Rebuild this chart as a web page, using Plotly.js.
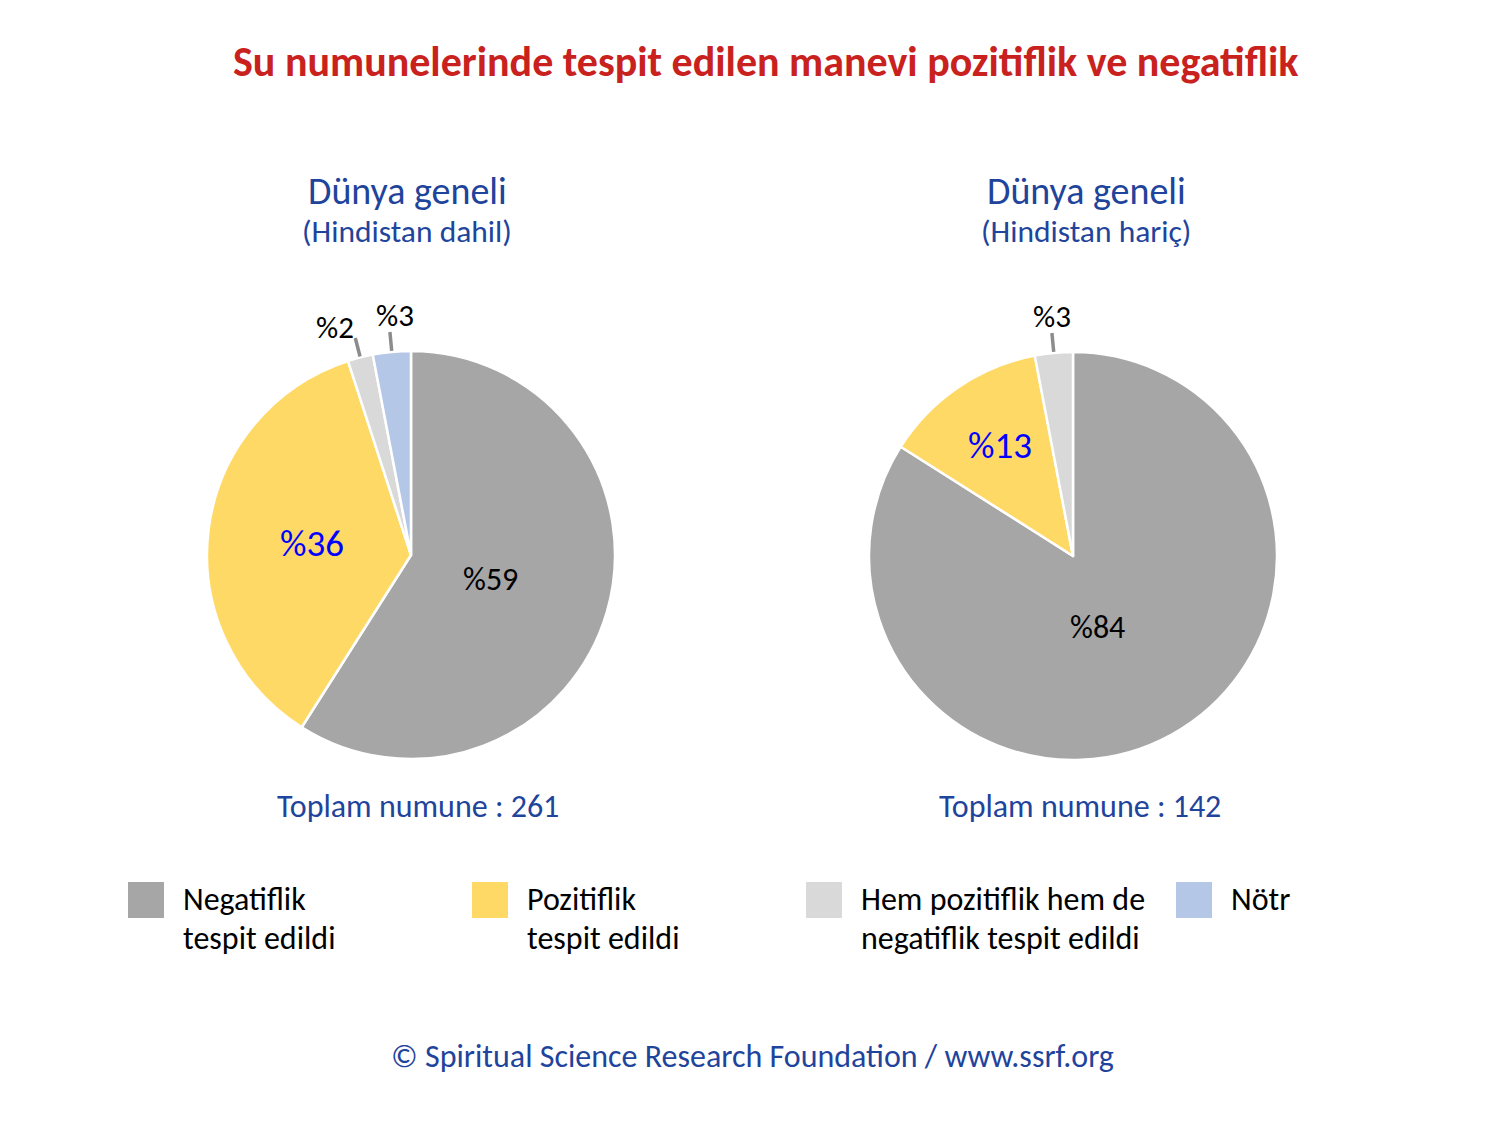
<!DOCTYPE html>
<html>
<head>
<meta charset="utf-8">
<script src="https://cdn.plot.ly/plotly-3.0.1.min.js"></script>
<style>
  html, body { margin: 0; padding: 0; background: #ffffff; }
  #chart { width: 1500px; height: 1127px; }
</style>
</head>
<body>
<div id="chart"></div>
<script>
// Categories and their colours
const categories = ['Negatiflik tespit edildi', 'Pozitiflik tespit edildi',
                    'Hem pozitiflik hem de negatiflik tespit edildi', 'Nötr'];
const legendLines = [['Negatiflik', 'tespit edildi'], ['Pozitiflik', 'tespit edildi'],
                     ['Hem pozitiflik hem de', 'negatiflik tespit edildi'], ['Nötr']];
const colors = ['#A6A6A6', '#FFD966', '#D9D9D9', '#B4C7E7'];

// Left pie: worldwide including India
const labelsIncl = categories;
const valuesIncl = [59, 36, 2, 3];
const totalIncl = 261;

// Right pie: worldwide excluding India
const labelsExcl = categories.slice(0, 3);
const valuesExcl = [84, 13, 3];
const totalExcl = 142;

const pieTitles = ['Dünya geneli', 'Dünya geneli'];
const pieSubtitles = ['(Hindistan dahil)', '(Hindistan hariç)'];
const mainTitle = 'Su numunelerinde tespit edilen manevi pozitiflik ve negatiflik';
const footer = '© Spiritual Science Research Foundation / www.ssrf.org';

const W = 1500, H = 1127;
const FONT = 'Carlito, Lato, sans-serif';
const BLUE_TXT = '#1F449C';

// pie geometry (pixels)
const R = 204;
const centers = [[411, 555], [1073, 556]];

function domainFor(c) {
  return {
    x: [(c[0] - R) / W, (c[0] + R) / W],
    y: [1 - (c[1] + R) / H, 1 - (c[1] - R) / H]
  };
}

// slices below this share are labelled outside with a leader line
const SMALL = 5;
// label placement per slice: [angle offset in degrees, radius as fraction of R]
const labelPlace = [
  [[1, 0.41], [-0.5, 0.49], [-4, 1.18], [1.5, 1.18]],
  [[10, 0.37], [1, 0.65], [0.5, 1.18]]
];

function pieTrace(labels, values, c) {
  return {
    type: 'pie',
    labels: labels,
    values: values,
    sort: false,
    direction: 'clockwise',
    rotation: 0,
    domain: domainFor(c),
    marker: { colors: colors.slice(0, values.length), line: { color: '#ffffff', width: 2.5 } },
    textinfo: 'none',
    hoverinfo: 'label+percent',
    showlegend: false
  };
}

const data = [
  pieTrace(labelsIncl, valuesIncl, centers[0]),
  pieTrace(labelsExcl, valuesExcl, centers[1])
];

const annotations = [];
const shapes = [];

// main title
annotations.push({
  xref: 'paper', yref: 'paper', x: 765 / W, y: 1 - 62 / H,
  xanchor: 'center', yanchor: 'middle', showarrow: false,
  text: '<b>' + mainTitle + '</b>',
  font: { family: FONT, size: 42, color: '#C9211E' }
});

// pie headings and totals
const headX = [407, 1086];
const totalX = [418, 1080];
const totals = [totalIncl, totalExcl];
for (let k = 0; k < 2; k++) {
  annotations.push({
    xref: 'paper', yref: 'paper', x: headX[k] / W, y: 1 - 191 / H,
    xanchor: 'center', yanchor: 'middle', showarrow: false,
    text: pieTitles[k], font: { family: FONT, size: 38, color: BLUE_TXT }
  });
  annotations.push({
    xref: 'paper', yref: 'paper', x: headX[k] / W, y: 1 - 231 / H,
    xanchor: 'center', yanchor: 'middle', showarrow: false,
    text: pieSubtitles[k], font: { family: FONT, size: 31.5, color: BLUE_TXT }
  });
  annotations.push({
    xref: 'paper', yref: 'paper', x: totalX[k] / W, y: 1 - 806 / H,
    xanchor: 'center', yanchor: 'middle', showarrow: false,
    text: 'Toplam numune : ' + totals[k], font: { family: FONT, size: 32, color: BLUE_TXT }
  });
}

// percentage labels: inside for large slices, outside with a leader line for small ones
const toPaper = (px, py) => [px / W, 1 - py / H];
[valuesIncl, valuesExcl].forEach((values, k) => {
  const sum = values.reduce((a, b) => a + b, 0);
  const c = centers[k];
  let acc = 0;
  values.forEach((v, i) => {
    const mid = (acc + v / 2) / sum * 2 * Math.PI;
    acc += v;
    const place = labelPlace[k][i];
    const ang = mid + place[0] * Math.PI / 180;
    const lx = c[0] + place[1] * R * Math.sin(ang);
    const ly = c[1] - place[1] * R * Math.cos(ang);
    const p = toPaper(lx, ly);
    const small = v < SMALL;
    const positive = i === 1;
    annotations.push({
      xref: 'paper', yref: 'paper', x: p[0], y: p[1],
      xanchor: 'center', yanchor: 'middle', showarrow: false,
      text: '%' + v,
      font: {
        family: FONT,
        size: small ? 31 : (positive ? 37 : 32),
        color: positive ? '#0000FF' : '#000000'
      }
    });
    if (small) {
      // radial leader line from the rim outwards
      const a = toPaper(c[0] + (R + 1) * Math.sin(mid), c[1] - (R + 1) * Math.cos(mid));
      const b = toPaper(c[0] + (R + 20) * Math.sin(mid), c[1] - (R + 20) * Math.cos(mid));
      shapes.push({
        type: 'line', xref: 'paper', yref: 'paper',
        x0: a[0], y0: a[1], x1: b[0], y1: b[1],
        line: { color: '#8C8C8C', width: 3.5 }
      });
    }
  });
});

// legend
const legSquareX = [128, 472, 806, 1176];
const legTop = 882, legSize = 36, legTextDx = 53;
const legLineY = [899, 938];
categories.forEach((cat, i) => {
  shapes.push({
    type: 'rect', xref: 'paper', yref: 'paper',
    x0: legSquareX[i] / W, x1: (legSquareX[i] + legSize) / W,
    y0: 1 - (legTop + legSize) / H, y1: 1 - legTop / H,
    fillcolor: colors[i], line: { width: 0 }
  });
  legendLines[i].forEach((line, j) => {
    annotations.push({
      xref: 'paper', yref: 'paper',
      x: (legSquareX[i] + legTextDx) / W, y: 1 - legLineY[j] / H,
      xanchor: 'left', yanchor: 'middle', showarrow: false,
      text: line, font: { family: FONT, size: 32, color: '#000000' }
    });
  });
});

// footer
annotations.push({
  xref: 'paper', yref: 'paper', x: 752 / W, y: 1 - 1056 / H,
  xanchor: 'center', yanchor: 'middle', showarrow: false,
  text: footer, font: { family: FONT, size: 32, color: BLUE_TXT }
});

const layout = {
  width: W, height: H,
  margin: { l: 0, r: 0, t: 0, b: 0 },
  paper_bgcolor: '#ffffff',
  plot_bgcolor: '#ffffff',
  showlegend: false,
  annotations: annotations,
  shapes: shapes,
  font: { family: FONT }
};

Plotly.newPlot('chart', data, layout, { displayModeBar: false, staticPlot: true });
</script>
</body>
</html>
